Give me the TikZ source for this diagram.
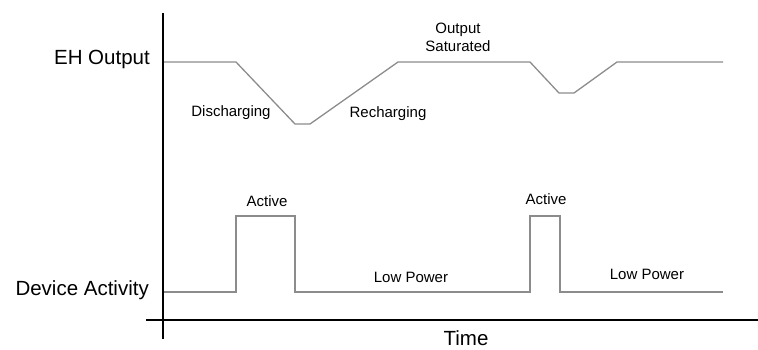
\documentclass[tikz,border=0pt]{standalone}
\usepackage{fontspec}
\setmainfont{Liberation Sans}
\begin{document}
\begin{tikzpicture}[x=1pt,y=-1pt,
  axis/.style={line width=1.5pt,black},
  wave/.style={line width=1.3pt,color=black!45,line join=miter},
  biglabel/.style={font=\fontsize{20.5}{24}\selectfont,inner sep=0pt},
  smalllabel/.style={font=\fontsize{15}{18}\selectfont,inner sep=0pt,align=center},
]
\path[use as bounding box] (0,0) rectangle (758,349);

% axes
\coordinate (ytop) at (163,13);
\coordinate (ybot) at (163,339);
\coordinate (xleft) at (146,320);
\coordinate (xright) at (758,320);
\draw[axis] (ytop) -- (ybot);
\draw[axis] (xleft) -- (xright);

% EH output waveform
\coordinate (e0) at (164,62);
\coordinate (e1) at (236,62);
\coordinate (e2) at (295,124);
\coordinate (e3) at (310,124);
\coordinate (e4) at (398,62);
\coordinate (e5) at (530,62);
\coordinate (e6) at (559,93);
\coordinate (e7) at (574,93);
\coordinate (e8) at (617,62);
\coordinate (e9) at (723,62);
\draw[wave] (e0) -- (e1) -- (e2) -- (e3) -- (e4) -- (e5) -- (e6) -- (e7) -- (e8) -- (e9);

% device activity waveform
\coordinate (d0) at (164,292);
\coordinate (d1) at (236,292);
\coordinate (d2) at (236,216);
\coordinate (d3) at (295,216);
\coordinate (d4) at (295,292);
\coordinate (d5) at (530,292);
\coordinate (d6) at (530,216);
\coordinate (d7) at (560,216);
\coordinate (d8) at (560,292);
\coordinate (d9) at (723,292);
\draw[wave] (d0) -- (d1) -- (d2) -- (d3) -- (d4) -- (d5) -- (d6) -- (d7) -- (d8) -- (d9);

% labels
\node[biglabel,anchor=east] (ehout) at (150,59) {EH Output};
\node[biglabel,anchor=east] (devact) at (149,290) {Device Activity};
\node[biglabel] (time) at (466,338) {Time};

\node[smalllabel] (disch) at (231,113) {Discharging};
\node[smalllabel] (rech) at (388,114) {Recharging};
\node[smalllabel,align=center] (sat) at (458,37) {Output\\Saturated};
\node[smalllabel] (act1) at (267,201) {Active};
\node[smalllabel] (act2) at (546,199) {Active};
\node[smalllabel] (lp1) at (411,277) {Low Power};
\node[smalllabel] (lp2) at (647,274) {Low Power};
\end{tikzpicture}
\end{document}
